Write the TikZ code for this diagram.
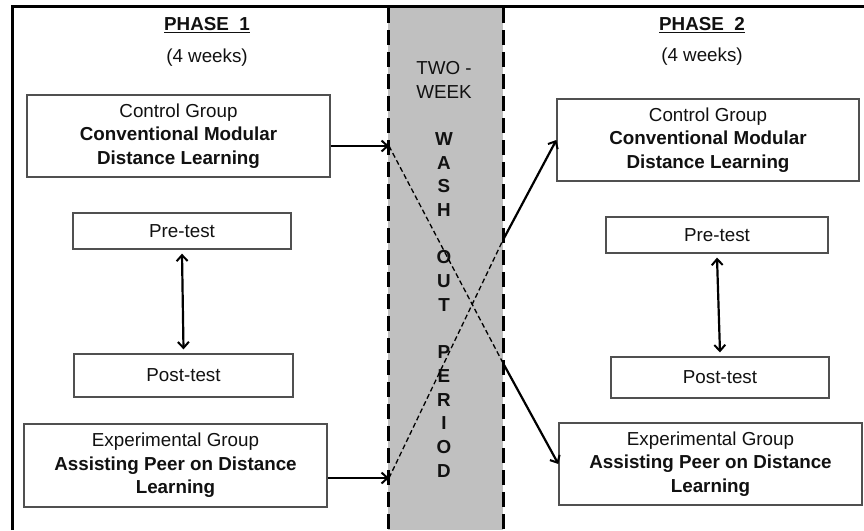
\documentclass[tikz,border=0pt]{standalone}
\usepackage{fontspec}
\setmainfont{Liberation Sans}
\usetikzlibrary{arrows.meta}
\definecolor{txt}{HTML}{111111}
\definecolor{bandgray}{HTML}{C0C0C0}
\definecolor{boxline}{HTML}{505050}
\begin{document}
\begin{tikzpicture}[x=1pt,y=-1pt,
  box/.style={draw=boxline,line width=1.3pt,fill=white,align=center,text=txt,
    inner sep=0pt,font=\fontsize{18.8}{23.5}\selectfont},
  title/.style={text=txt,font=\fontsize{18.8}{22}\selectfont},
  tip/.tip={Straight Barb[length=6pt,width=11pt,line width=2pt]},
  arr/.style={line width=2.2pt,-tip},
  dbl/.style={line width=2.2pt,tip-tip},
  dline/.style={line width=1.3pt,dash pattern=on 5pt off 3pt}
]
\useasboundingbox (0,0) rectangle (864,530);
\fill[white] (0,0) rectangle (864,530);
% band
\fill[bandgray] (388,6) rectangle (503,530);
\draw[line width=3pt,dash pattern=on 15pt off 7pt] (388,8) -- (388,530);
\draw[line width=3pt,dash pattern=on 15pt off 7pt] (503,8) -- (503,530);
% frame
\draw[line width=3pt] (12,530) -- (12,6) -- (864,6);
% titles
\node[title,font=\fontsize{18.8}{22}\selectfont\bfseries] (p1) at (207,25) {\underline{PHASE\ \ 1}};
\node[title] (w1) at (207,58) {(4 weeks)};
\node[title,font=\fontsize{18.8}{22}\selectfont\bfseries] (p2) at (702,25) {\underline{PHASE\ \ 2}};
\node[title] (w2) at (702,57) {(4 weeks)};
% wash-out text
\node[text=txt,align=center,inner sep=0pt,anchor=north,font=\fontsize{18.8}{23.7}\selectfont] (wash) at (444,61)
 {TWO -\\WEEK\\\mbox{}\\\textbf{W}\\\textbf{A}\\\textbf{S}\\\textbf{H}\\\mbox{}\\\textbf{O}\\\textbf{U}\\\textbf{T}\\\mbox{}\\\textbf{P}\\\textbf{E}\\\textbf{R}\\\textbf{I}\\\textbf{O}\\\textbf{D}};
% boxes
\node[box,minimum width=303,minimum height=82] (lc) at (178.5,136)
  {Control Group\\\textbf{Conventional Modular}\\\textbf{Distance Learning}};
\node[box,minimum width=302,minimum height=82] (rc) at (708,140)
  {Control Group\\\textbf{Conventional Modular}\\\textbf{Distance Learning}};
\node[box,minimum width=218,minimum height=36] (lpre) at (182,231) {Pre-test};
\node[box,minimum width=219,minimum height=43] (lpost) at (183.5,375.5) {Post-test};
\node[box,minimum width=222,minimum height=36] (rpre) at (717,235) {Pre-test};
\node[box,minimum width=218,minimum height=41] (rpost) at (720,377.5) {Post-test};
\node[box,minimum width=303,minimum height=83] (le) at (175.5,465.5)
  {Experimental Group\\\textbf{Assisting Peer on Distance}\\\textbf{Learning}};
\node[box,minimum width=303,minimum height=82] (re) at (710.5,464)
  {Experimental Group\\\textbf{Assisting Peer on Distance}\\\textbf{Learning}};
% pre/post arrows
\path (lpre.south) ++(0,4) coordinate (a1) (lpost.north) ++(0,-4) coordinate (a2);
\draw[dbl] (a1) -- (a2);
\path (rpre.south) ++(0,4) coordinate (b1) (rpost.north) ++(0,-4) coordinate (b2);
\draw[dbl] (b1) -- (b2);
% crossing
\coordinate (c1) at (389,146);
\coordinate (c2) at (503,363);
\coordinate (c3) at (389,478);
\coordinate (c4) at (503,240);
\draw[arr] (lc.east |- c1) -- (c1);
\draw[arr] (le.east |- c3) -- (c3);
\draw[dline] (c1) -- (c2);
\draw[dline] (c3) -- (c4);
\draw[arr] (c4) -- (rc.west);
\draw[arr] (c2) -- (re.west);
\end{tikzpicture}
\end{document}
